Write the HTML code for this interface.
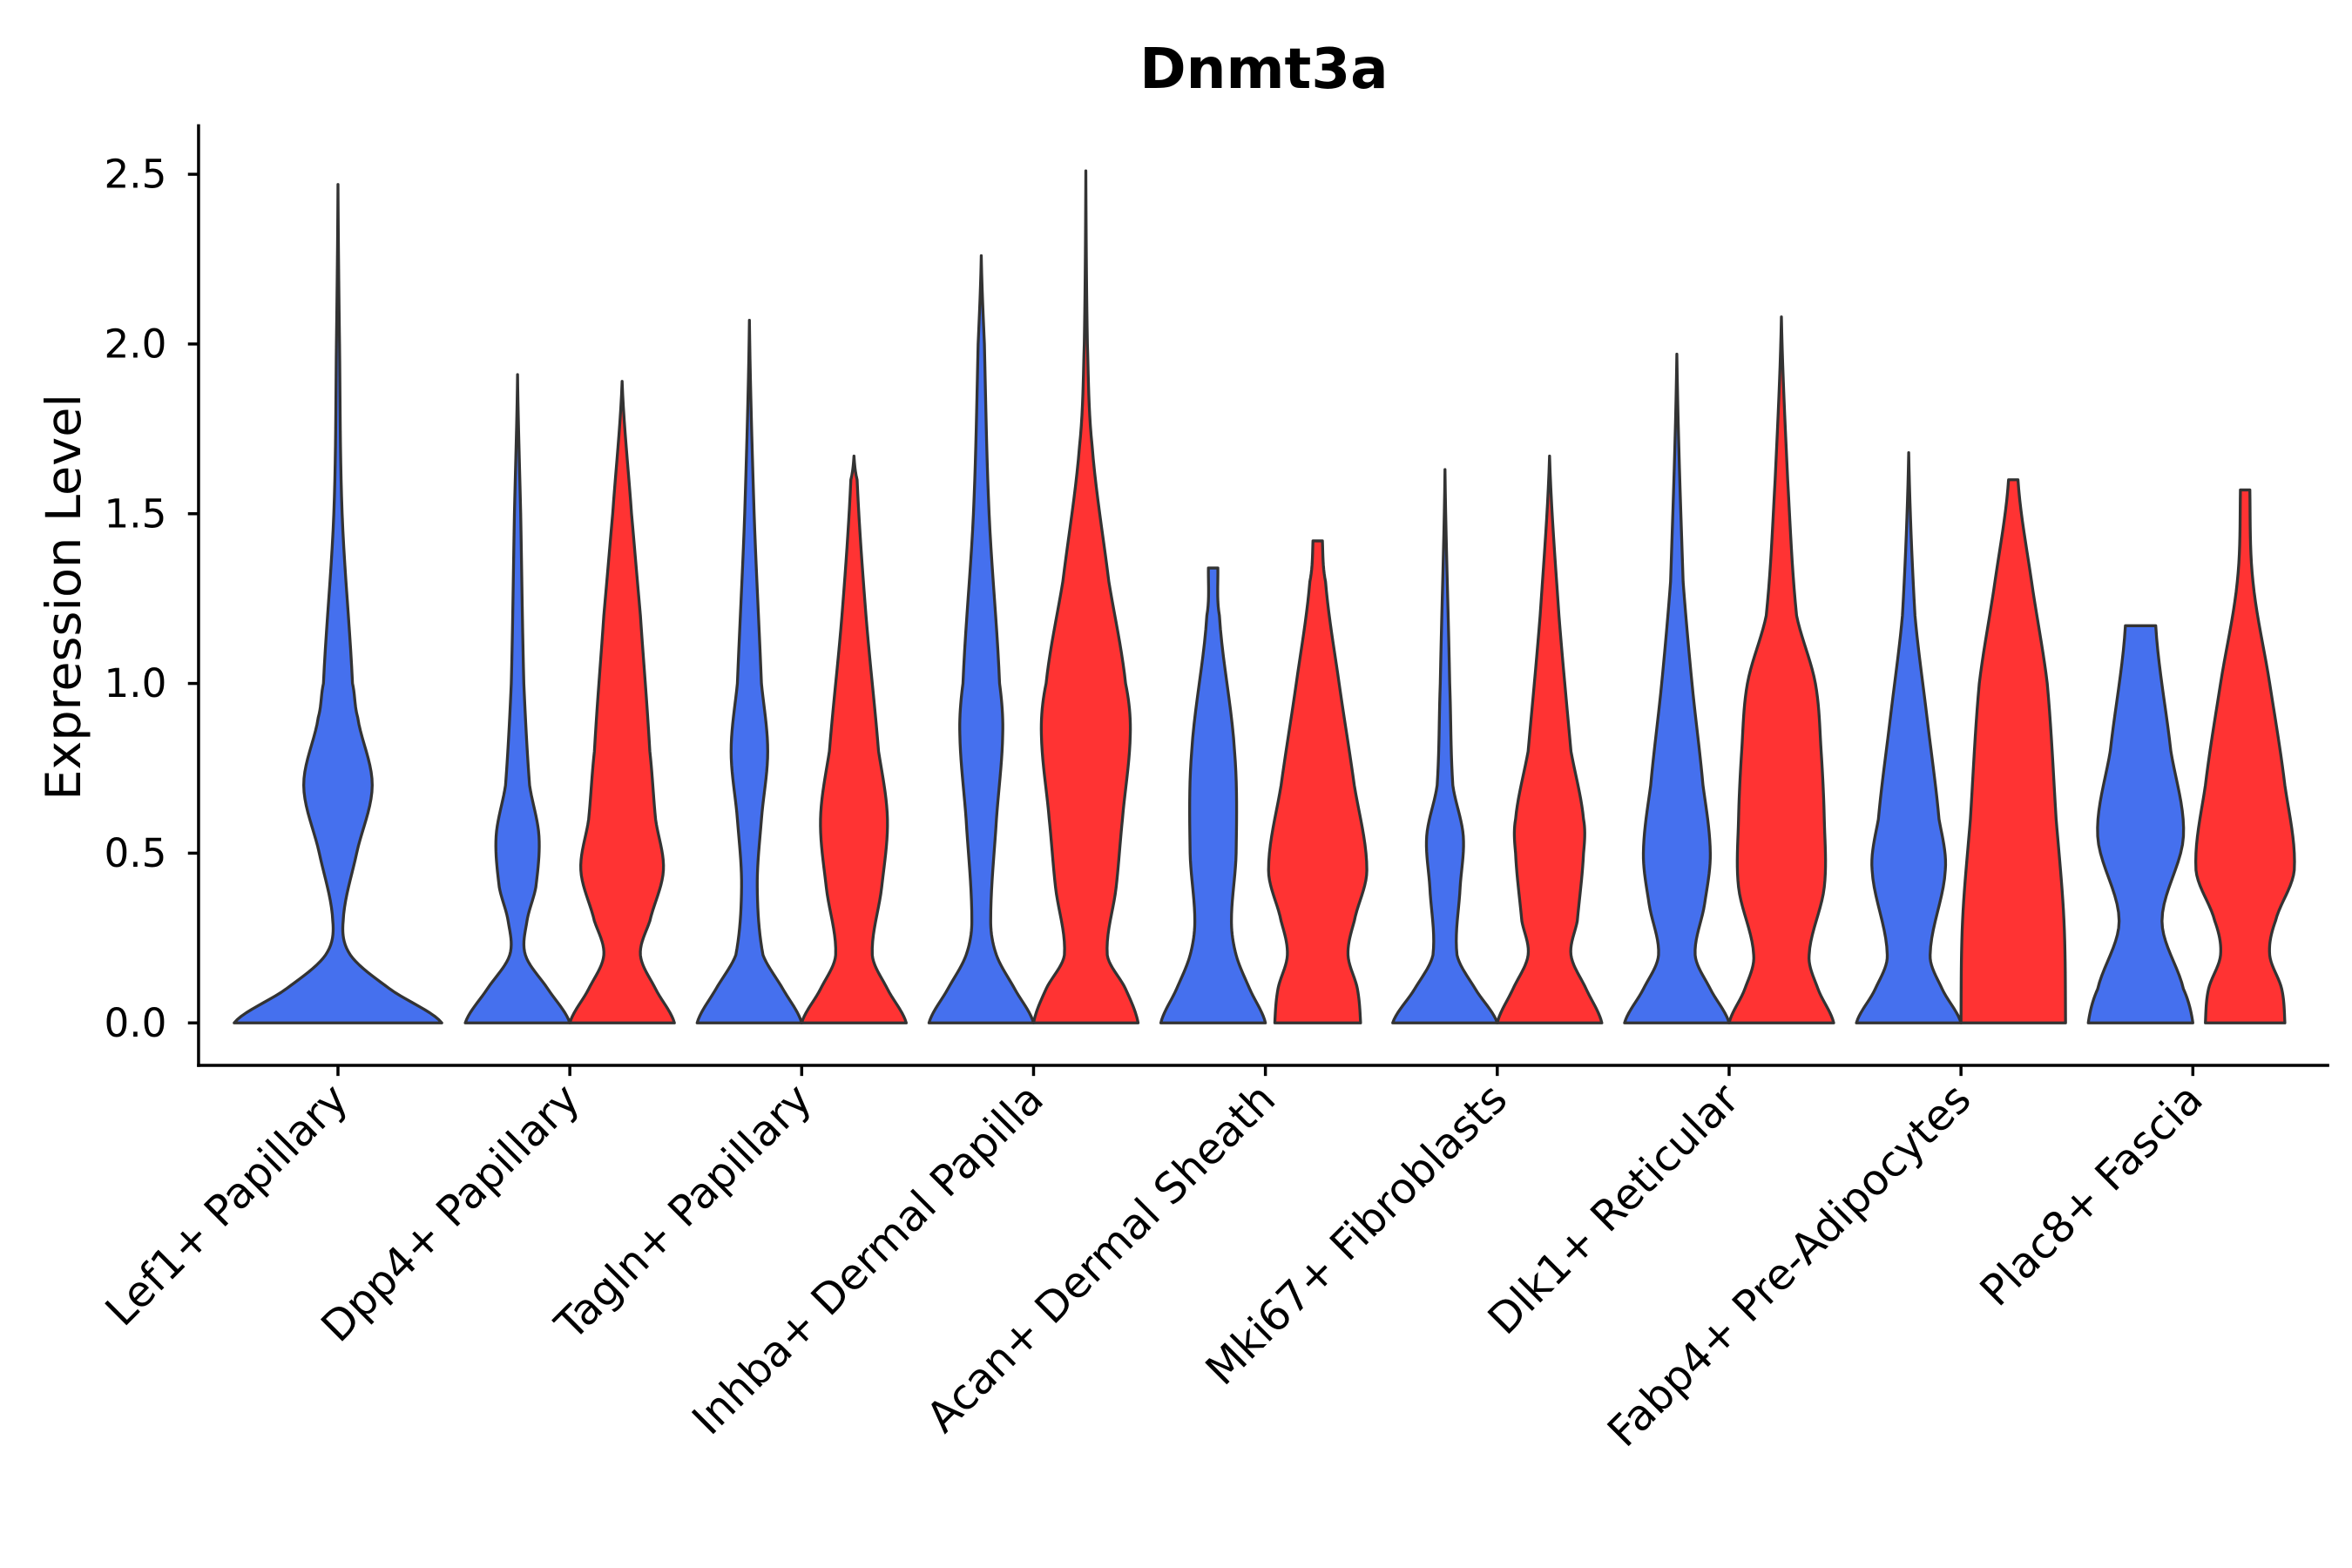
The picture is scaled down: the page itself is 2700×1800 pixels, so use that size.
<!DOCTYPE html>
<html><head><meta charset="utf-8"><style>
html,body{margin:0;padding:0;background:#fff;}
svg{display:block;font-family:"DejaVu Sans","Liberation Sans",sans-serif;}
</style></head><body>
<svg id="chart" width="2700" height="1800" viewBox="0 0 1552 1034.7" xmlns="http://www.w3.org/2000/svg">
<rect width="1552" height="1034.7" fill="#fff"/>
<text x="834" y="58" text-anchor="middle" font-size="37" font-weight="bold">Dnmt3a</text>
<g id="violins"></g>
<g id="axes"></g>
</svg>
<script>
const categories=["Lef1+ Papillary","Dpp4+ Papillary","Tagln+ Papillary","Inhba+ Dermal Papilla","Acan+ Dermal Sheath","Mki67+ Fibroblasts","Dlk1+ Reticular","Fabp4+ Pre-Adipocytes","Plac8+ Fascia"];
const yTicks=[0,0.5,1,1.5,2,2.5];
const yTickLabels=["0.0","0.5","1.0","1.5","2.0","2.5"];
// violin profiles: [level, relative half-width (0-1)]
const blueProfiles=[
[[0,1],[0.1,0.5],[0.2,0.12],[0.3,0.05],[0.5,0.18],[0.7,0.33],[0.9,0.19],[1.0,0.14],[1.5,0.04],[2.0,0.015],[2.47,0]],
[[0,1],[0.1,0.58],[0.2,0.15],[0.3,0.18],[0.4,0.35],[0.55,0.41],[0.7,0.23],[1.0,0.12],[1.5,0.06],[1.91,0]],
[[0,1],[0.1,0.64],[0.2,0.26],[0.4,0.15],[0.6,0.23],[0.8,0.35],[1.0,0.23],[1.5,0.09],[2.07,0]],
[[0,1],[0.1,0.64],[0.2,0.29],[0.3,0.18],[0.6,0.29],[0.85,0.41],[1.0,0.35],[1.5,0.15],[2.0,0.06],[2.26,0]],
[[0,1],[0.1,0.7],[0.2,0.44],[0.3,0.35],[0.5,0.44],[0.8,0.41],[1.2,0.12],[1.34,0.09]],
[[0,1],[0.1,0.58],[0.2,0.23],[0.4,0.29],[0.55,0.35],[0.7,0.15],[1.0,0.09],[1.63,0]],
[[0,1],[0.1,0.64],[0.2,0.35],[0.35,0.53],[0.5,0.64],[0.7,0.5],[1.0,0.29],[1.3,0.12],[1.97,0]],
[[0,1],[0.1,0.64],[0.2,0.41],[0.45,0.7],[0.6,0.58],[0.9,0.35],[1.2,0.12],[1.68,0]],
[[0,1],[0.1,0.82],[0.3,0.41],[0.55,0.82],[0.8,0.58],[1.17,0.29]]
];
const redProfiles=[
null,
[[0,1],[0.1,0.64],[0.2,0.35],[0.3,0.53],[0.45,0.79],[0.6,0.64],[0.8,0.53],[1.2,0.35],[1.5,0.18],[1.89,0]],
[[0,1],[0.1,0.64],[0.2,0.35],[0.4,0.53],[0.6,0.64],[0.8,0.47],[1.2,0.23],[1.6,0.06],[1.67,0]],
[[0,1],[0.1,0.76],[0.2,0.41],[0.4,0.58],[0.6,0.7],[0.85,0.85],[1.0,0.76],[1.3,0.44],[1.7,0.12],[2.0,0.03],[2.51,0]],
[[0,0.82],[0.1,0.76],[0.2,0.58],[0.3,0.7],[0.45,0.94],[0.7,0.7],[1.0,0.41],[1.3,0.15],[1.42,0.09]],
[[0,1],[0.1,0.7],[0.2,0.41],[0.3,0.53],[0.5,0.65],[0.6,0.65],[0.8,0.41],[1.2,0.18],[1.67,0]],
[[0,1],[0.1,0.7],[0.2,0.53],[0.4,0.82],[0.6,0.82],[0.8,0.76],[1.0,0.65],[1.2,0.29],[1.6,0.12],[2.08,0]],
[[0,1],[0.3,0.97],[0.6,0.82],[1.0,0.65],[1.3,0.35],[1.6,0.09]],
[[0,0.76],[0.1,0.7],[0.2,0.47],[0.3,0.58],[0.45,0.94],[0.7,0.76],[1.0,0.47],[1.3,0.15],[1.57,0.09]]
];
const NS="http://www.w3.org/2000/svg";
const plotL=131,plotR=1537,plotB=703,plotT=82;
function yScale(v){return 675-v*224;}
function xScale(i){return 223+i*153;}
function profPath(prof,cx,maxW){
  const pts=[];
  for(let k=0;k<prof.length-1;k++){
    const p0=prof[Math.max(0,k-1)],p1=prof[k],p2=prof[k+1],p3=prof[Math.min(prof.length-1,k+2)];
    for(let s=0;s<10;s++){
      const t=s/10;
      const f=(a,b,c,d)=>0.5*((2*b)+(-a+c)*t+(2*a-5*b+4*c-d)*t*t+(-a+3*b-3*c+d)*t*t*t);
      let w=f(p0[1],p1[1],p2[1],p3[1]);
      pts.push([p1[0]+(p2[0]-p1[0])*t,Math.max(0,w)]);
    }
  }
  pts.push(prof[prof.length-1]);
  let d="";
  pts.forEach((p,i)=>{d+=(i?"L":"M")+(cx-p[1]*maxW).toFixed(2)+","+yScale(p[0]).toFixed(2);});
  for(let i=pts.length-1;i>=0;i--){const p=pts[i];d+="L"+(cx+p[1]*maxW).toFixed(2)+","+yScale(p[0]).toFixed(2);}
  return d+"Z";
}
const vg=document.getElementById("violins");
categories.forEach((c,i)=>{
  const cx=xScale(i);
  const hasRed=!!redProfiles[i];
  const bx=hasRed?cx-34.5:cx, bw=hasRed?34.5:68.5;
  const pb=document.createElementNS(NS,"path");
  pb.setAttribute("d",profPath(blueProfiles[i],bx,bw));
  pb.setAttribute("fill","#4570EE");pb.setAttribute("stroke","#333");pb.setAttribute("stroke-width","1.9");pb.setAttribute("stroke-linejoin","round");
  
  
  vg.appendChild(pb);
  if(hasRed){
    const pr=document.createElementNS(NS,"path");
    pr.setAttribute("d",profPath(redProfiles[i],cx+34.5,34.5));
    pr.setAttribute("fill","#FF3333");pr.setAttribute("stroke","#333");pr.setAttribute("stroke-width","1.9");pr.setAttribute("stroke-linejoin","round");
    
    
    vg.appendChild(pr);
  }
});
const ag=document.getElementById("axes");
function line(x1,y1,x2,y2,name){
  const l=document.createElementNS(NS,"line");
  l.setAttribute("x1",x1);l.setAttribute("y1",y1);l.setAttribute("x2",x2);l.setAttribute("y2",y2);
  l.setAttribute("stroke","#000");l.setAttribute("stroke-width","2");
  
  
  ag.appendChild(l);
}
line(plotL,plotT,plotL,plotB+1,"y-axis-line");
line(plotL-1,plotB,plotR,plotB,"x-axis-line");
yTicks.forEach((v,i)=>{
  line(plotL-7,yScale(v),plotL,yScale(v),"y-tick");
  const t=document.createElementNS(NS,"text");
  t.setAttribute("x",plotL-21);t.setAttribute("y",yScale(v)+9);t.setAttribute("text-anchor","end");t.setAttribute("font-size","26");
  t.textContent=yTickLabels[i];
  
  
  ag.appendChild(t);
});
categories.forEach((c,i)=>{
  const x=xScale(i);
  line(x,plotB,x,plotB+7,"x-tick");
  const t=document.createElementNS(NS,"text");
  t.setAttribute("transform","translate("+(x+8)+","+(plotB+24)+") rotate(-45)");
  t.setAttribute("text-anchor","end");t.setAttribute("font-size","28");
  t.textContent=c;
  
  
  ag.appendChild(t);
});
const yt=document.createElementNS(NS,"text");
yt.setAttribute("transform","translate(53,394) rotate(-90)");
yt.setAttribute("text-anchor","middle");yt.setAttribute("font-size","32");
yt.textContent="Expression Level";


ag.appendChild(yt);
</script>
</body></html>
